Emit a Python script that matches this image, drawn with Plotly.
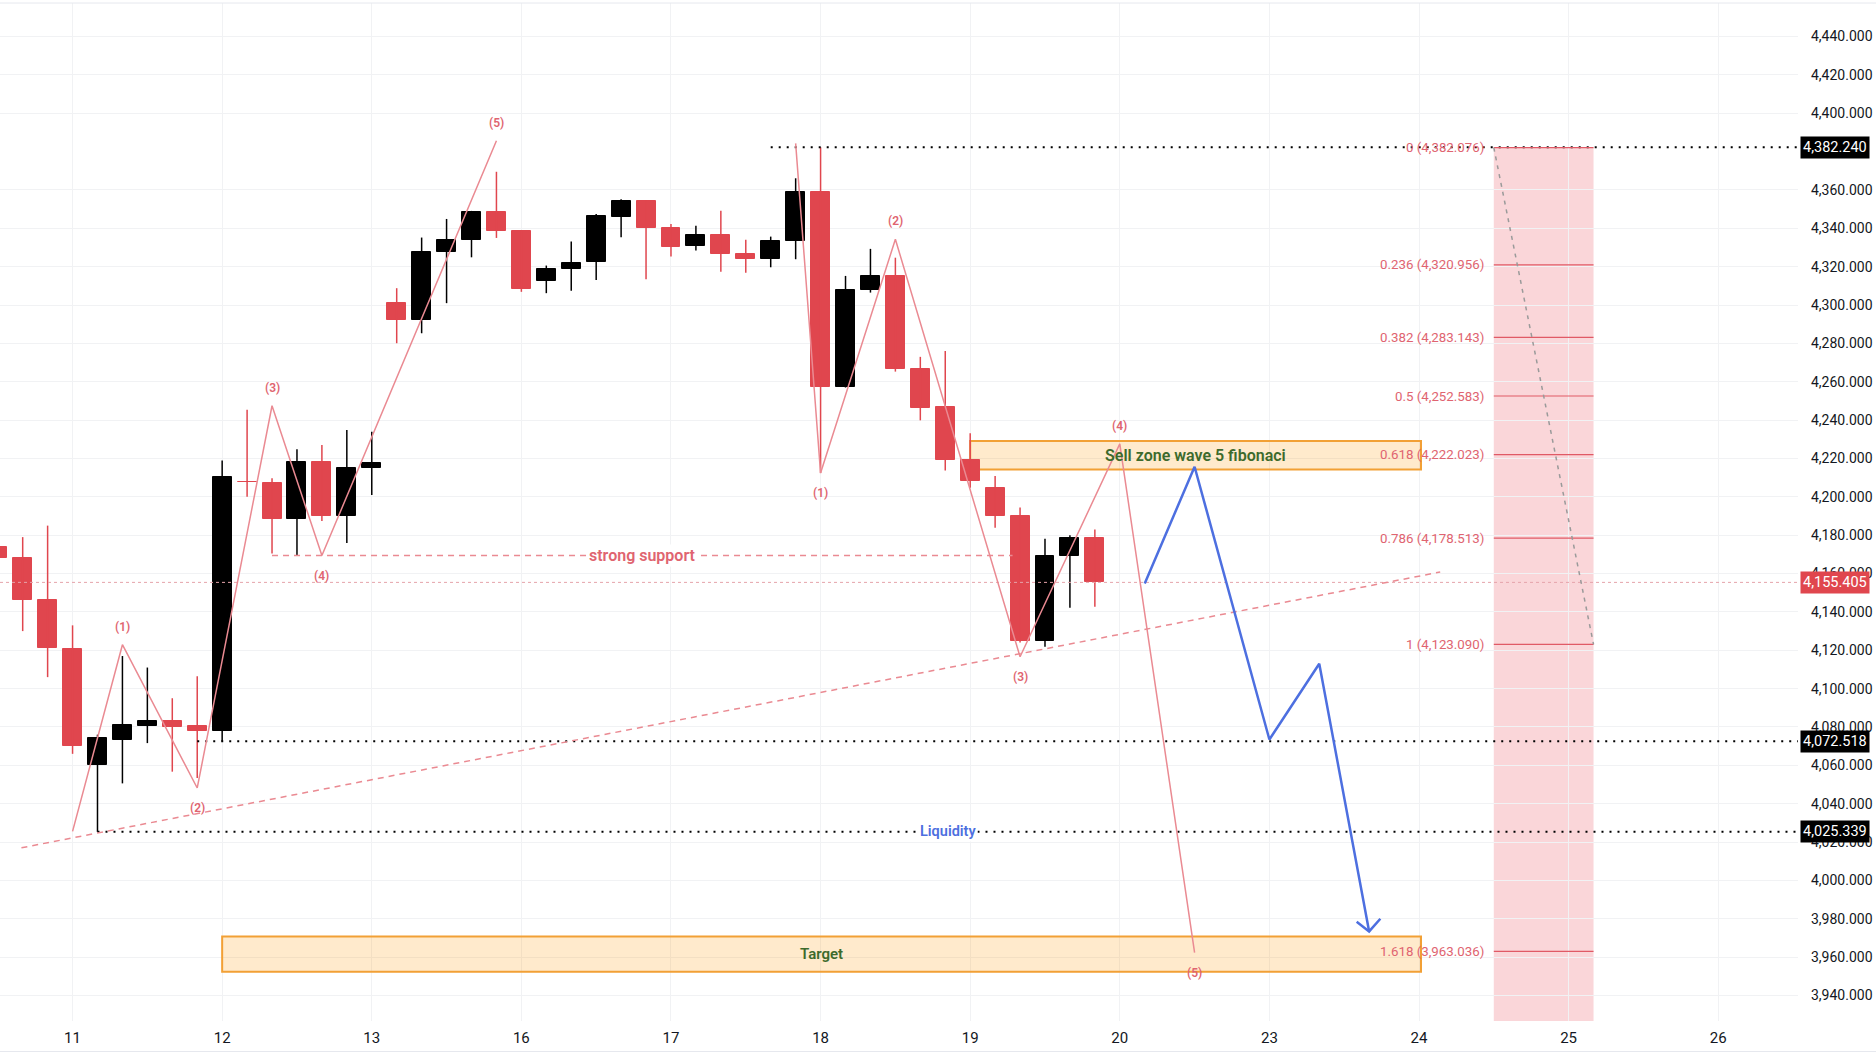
import plotly.graph_objects as go

# 4H candles, one entry per bar (bar 0 is the half-cut one on the left edge)
opens = [4174.0, 4168.0, 4146.0, 4120.5, 4060.0, 4073.4, 4080.7, 4083.3, 4080.4, 4078.1,
         4208.0, 4207.0, 4188.7, 4218.4, 4190.1, 4214.9, 4301.3, 4292.3, 4327.5, 4333.8,
         4348.5, 4338.5, 4312.4, 4318.8, 4322.3, 4346.1, 4354.4, 4340.0, 4331.0, 4336.6,
         4326.7, 4323.9, 4333.4, 4358.8, 4257.5, 4307.6, 4315.2, 4266.9, 4246.6, 4219.3,
         4204.4, 4190.2, 4125.0, 4168.9, 4178.8]
highs = [4176.0, 4179.0, 4185.0, 4133.0, 4076.0, 4117.0, 4111.0, 4095.0, 4106.5, 4219.0,
         4245.4, 4209.7, 4224.8, 4227.0, 4234.9, 4234.0, 4308.8, 4335.2, 4344.9, 4349.1,
         4369.5, 4338.7, 4320.6, 4333.1, 4347.5, 4355.2, 4354.6, 4342.3, 4341.4, 4349.2,
         4334.0, 4335.7, 4366.1, 4382.24, 4315.2, 4329.3, 4324.7, 4273.0, 4276.0, 4233.2,
         4210.9, 4194.5, 4178.2, 4180.0, 4183.0]
lows = [4165.0, 4130.0, 4106.0, 4066.0, 4025.339, 4050.6, 4071.6, 4056.7, 4053.4, 4072.518,
        4200.0, 4170.4, 4169.2, 4187.4, 4176.0, 4201.0, 4280.1, 4285.3, 4301.0, 4324.9,
        4335.0, 4306.9, 4306.2, 4307.5, 4313.1, 4335.4, 4313.5, 4325.3, 4328.4, 4317.4,
        4316.9, 4319.7, 4323.9, 4212.4, 4257.0, 4306.5, 4265.3, 4239.9, 4213.8, 4204.7,
        4183.9, 4124.0, 4121.9, 4142.2, 4142.7]
closes = [4168.0, 4146.0, 4121.0, 4070.0, 4074.4, 4081.2, 4083.3, 4079.8, 4078.1, 4210.2,
          4207.5, 4188.7, 4218.4, 4190.1, 4214.9, 4217.5, 4292.3, 4327.7, 4334.0, 4348.5,
          4338.5, 4308.3, 4318.8, 4322.1, 4346.6, 4354.4, 4340.0, 4330.5, 4336.6, 4326.5,
          4323.9, 4333.4, 4358.8, 4257.5, 4307.9, 4315.2, 4266.6, 4246.1, 4219.3, 4208.2,
          4190.2, 4125.0, 4168.9, 4178.8, 4155.405]

day_labels = ['11', '12', '13', '16', '17', '18', '19', '20', '23', '24', '25', '26']
first_day_bar = 3
bars_per_day = 6

# Elliott waves (bar index, price)
wave_a_x = [3, 5, 8, 11, 13, 20]
wave_a_y = [4025.6, 4122.9, 4048.2, 4247.5, 4169.4, 4385.7]
wave_b_x = [32, 33, 36, 41, 45, 48]
wave_b_y = [4384.3, 4212.4, 4334.3, 4116.6, 4227.6, 3962.4]
wave_names = ['', '(1)', '(2)', '(3)', '(4)', '(5)']

# projected path (blue)
proj_x = [46, 48, 51, 53, 55]
proj_y = [4154.8, 4215.7, 4073.5, 4113.0, 3973.4]
arrow_x = [54.5, 55, 55.45]
arrow_y = [3978.4, 3973.4, 3980.0]

# rising trendline
trend_x = [0.95, 57.85]
trend_y = [4017.0, 4160.8]

# support / liquidity
support_price = 4169.4
support_bars = [11, 40.7]
level_prices = [4382.240, 4072.518, 4025.339]
level_start = [31, 8, 4]
last_price = 4155.405

# fibonacci
fib_ratios = ['0', '0.236', '0.382', '0.5', '0.618', '0.786', '1', '1.618']
fib_prices = [4382.076, 4320.956, 4283.143, 4252.583, 4222.023, 4178.513, 4123.090, 3963.036]
fib_bars = [60, 64]

sell_zone_bars = [39, 57.08]
sell_zone_prices = [4214.3, 4229.1]
target_bars = [9, 57.08]
target_prices = [3952.4, 3970.8]

x_range = [0.09, 72.2]
y_range = [3926.7, 4457.5]
# 4,380 sits fully under the 4,382.240 tag, so it is left out
y_ticks = [v for v in range(3940, 4441, 20) if v != 4380]

RED = '#e0464e'
WAVE = '#ea8a92'
BLUE = '#4d6fe0'
LABEL_RED = '#e06470'
GREEN = '#3d6a2c'

fig = go.Figure()

bars = list(range(len(opens)))
up = [c >= o for o, c in zip(opens, closes)]

# wicks
for is_up, col in [(True, '#000000'), (False, RED)]:
    wx, wy = [], []
    for i in bars:
        if up[i] == is_up:
            wx += [i, i, None]
            wy += [lows[i], highs[i], None]
    fig.add_trace(go.Scatter(x=wx, y=wy, mode='lines', line=dict(color=col, width=1.5),
                             hoverinfo='skip', showlegend=False))

# bodies
body_col = ['#000000' if u else RED for u in up]
fig.add_trace(go.Bar(x=bars, y=[abs(c - o) for o, c in zip(opens, closes)],
                     base=[min(o, c) for o, c in zip(opens, closes)], width=0.76,
                     marker=dict(color=body_col, line=dict(color=body_col, width=1)),
                     showlegend=False, hoverinfo='skip'))

# horizontal levels
fig.add_trace(go.Scatter(x=list(x_range), y=[last_price, last_price], mode='lines',
                         line=dict(color='#e5a3aa', width=1, dash='dot'), showlegend=False))
for p, s in zip(level_prices, level_start):
    fig.add_trace(go.Scatter(x=[s, x_range[1]], y=[p, p], mode='lines',
                             line=dict(color='#000000', width=2, dash='2px,6px'),
                             showlegend=False))
fig.add_trace(go.Scatter(x=support_bars, y=[support_price, support_price], mode='lines',
                         line=dict(color=WAVE, width=1.5, dash='6px,5px'), showlegend=False))
fig.add_trace(go.Scatter(x=trend_x, y=trend_y, mode='lines',
                         line=dict(color=WAVE, width=1.5, dash='6px,5px'), showlegend=False))

# fib lines
for p in fib_prices:
    fig.add_trace(go.Scatter(x=fib_bars, y=[p, p], mode='lines',
                             line=dict(color='#e05a66', width=1.2), showlegend=False))
fig.add_trace(go.Scatter(x=fib_bars, y=[fib_prices[0], fib_prices[6]], mode='lines',
                         line=dict(color='#9a9a9a', width=1.5, dash='4px,5px'), showlegend=False))

# waves
for wx, wy in [(wave_a_x, wave_a_y), (wave_b_x, wave_b_y)]:
    fig.add_trace(go.Scatter(x=wx, y=wy, mode='lines', line=dict(color=WAVE, width=1.5),
                             showlegend=False))

# projection
fig.add_trace(go.Scatter(x=proj_x, y=proj_y, mode='lines', line=dict(color=BLUE, width=2.5),
                         showlegend=False))
fig.add_trace(go.Scatter(x=arrow_x, y=arrow_y, mode='lines', line=dict(color=BLUE, width=2.5),
                         showlegend=False))

# zones
fig.add_shape(type='rect', x0=fib_bars[0], x1=fib_bars[1], y0=y_range[0], y1=fib_prices[0],
              fillcolor='rgba(235,90,105,0.25)', line_width=0, layer='below')
for bx, by in [(sell_zone_bars, sell_zone_prices), (target_bars, target_prices)]:
    fig.add_shape(type='rect', x0=bx[0], x1=bx[1], y0=by[0], y1=by[1],
                  fillcolor='rgba(255,152,0,0.2)', line=dict(color='#f2a035', width=2),
                  layer='between')

# border lines
fig.add_shape(type='line', xref='paper', yref='paper', x0=0, x1=1.05, y0=1.0, y1=1.0,
              line=dict(color='#e6e8ee', width=1))
fig.add_shape(type='line', xref='paper', yref='paper', x0=0, x1=1.05, y0=-0.03, y1=-0.03,
              line=dict(color='#e6e8ee', width=1))

ann = []
font = 'Roboto'
# wave labels
for wx, wy, first_up in [(wave_a_x, wave_a_y, True), (wave_b_x, wave_b_y, False)]:
    for k in range(1, len(wx)):
        peak = (k % 2 == 1) == first_up
        ann.append(dict(x=wx[k], y=wy[k], text=wave_names[k], showarrow=False,
                        yshift=18 if peak else -20,
                        font=dict(family=font, size=12, color=LABEL_RED, weight=600)))

for r, p in zip(fib_ratios, fib_prices):
    ann.append(dict(x=fib_bars[0] - 0.3, y=p, xanchor='right', text=f'{r} ({p:,.3f})',
                    showarrow=False, font=dict(family=font, size=13.3, color=LABEL_RED)))

ann.append(dict(x=sum(sell_zone_bars) / 2, y=sum(sell_zone_prices) / 2,
                text='Sell zone wave 5 fibonaci', showarrow=False,
                font=dict(family=font, size=16, color=GREEN, weight=600)))
ann.append(dict(x=sum(target_bars) / 2, y=sum(target_prices) / 2, text='Target', showarrow=False,
                font=dict(family=font, size=15, color=GREEN, weight=600)))
ann.append(dict(x=sum(support_bars) / 2, y=support_price, text='strong support', showarrow=False,
                bgcolor='white', borderpad=1,
                font=dict(family=font, size=16, color=LABEL_RED, weight=600)))
ann.append(dict(x=(level_start[2] + x_range[1]) / 2, y=level_prices[2], text='Liquidity',
                showarrow=False, bgcolor='white', borderpad=1,
                font=dict(family=font, size=14.5, color=BLUE, weight=600)))

# price tags on the axis
for p, bg in [(level_prices[0], '#000000'), (last_price, RED),
              (level_prices[1], '#000000'), (level_prices[2], '#000000')]:
    ann.append(dict(xref='paper', x=1, xanchor='left', xshift=2, y=p, text=f'{p:,.3f}',
                    showarrow=False, bgcolor=bg, borderpad=2,
                    font=dict(family=font, size=14.5, color='white')))

fig.update_layout(
    width=1876, height=1056,
    margin=dict(l=0, r=78, t=3, b=35),
    plot_bgcolor='white', paper_bgcolor='white',
    showlegend=False, bargap=0, annotations=ann,
    xaxis=dict(range=x_range,
               tickvals=[first_day_bar + bars_per_day * k for k in range(len(day_labels))],
               ticktext=day_labels, showgrid=True, gridcolor='#f1f2f4', zeroline=False,
               showline=False, ticks='', ticklabelstandoff=6,
               tickfont=dict(family=font, size=15, color='#131722')),
    yaxis=dict(range=y_range, side='right', tickvals=y_ticks, tickformat=',.3f',
               showgrid=True, gridcolor='#f1f2f4', zeroline=False, showline=False,
               ticks='', ticklabelstandoff=12,
               tickfont=dict(family=font, size=14, color='#131722')),
)

fig.write_html('out.html', config={'displayModeBar': False},
               post_script="document.body.style.margin='0px';")
